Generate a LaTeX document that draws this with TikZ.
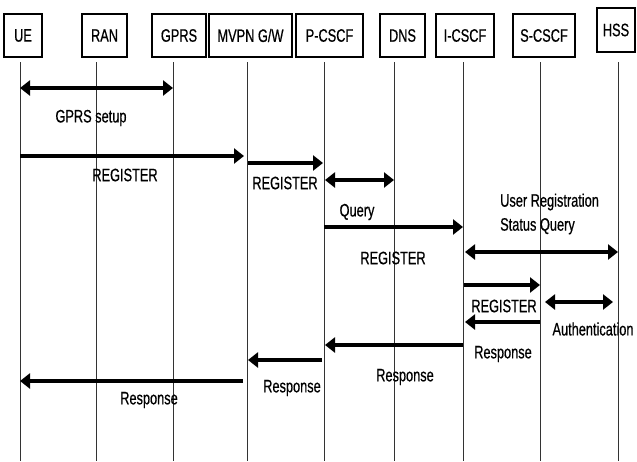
\documentclass[tikz,border=0pt]{standalone}
\usepackage{fontspec}
\setmainfont{Liberation Sans}[FakeStretch=0.71, FakeBold=0.6]
\usetikzlibrary{arrows.meta}
\begin{document}
\begin{tikzpicture}[x=1pt,y=-1pt,
  every node/.style={font=\fontsize{18}{19}\selectfont, inner sep=0pt},
  entity/.style={draw=black, line width=1.1pt, minimum height=43pt},
  lifeline/.style={draw=black!80, line width=0.8pt},
  msg/.style={line width=4.2pt, -{Triangle[length=10pt,width=15pt]}},
  bimsg/.style={line width=4.2pt, {Triangle[length=10pt,width=15pt]}-{Triangle[length=10pt,width=15pt]}}]
\useasboundingbox (0,0) rectangle (637,461);

% entity boxes
\node[entity, minimum width=38pt] (ue)    at (23,35.5)  {UE};
\node[entity, minimum width=45pt] (ran)   at (104.5,35.5) {RAN};
\node[entity, minimum width=54pt] (gprs)  at (179,35.5) {GPRS};
\node[entity, minimum width=83pt] (mvpn)  at (250.5,35.5) {MVPN G/W};
\node[entity, minimum width=67pt] (pcscf) at (329.5,35.5) {P-CSCF};
\node[entity, minimum width=45pt] (dns)   at (402.5,35.5) {DNS};
\node[entity, minimum width=58pt] (icscf) at (465,35.5) {I-CSCF};
\node[entity, minimum width=62pt] (scscf) at (544,35.5) {S-CSCF};
\node[entity, minimum width=38pt, minimum height=44pt] (hss) at (616,30) {HSS};

% lifelines
\foreach \n/\x in {lue/20, lran/96, lgprs/173, lmvpn/247, lpcscf/324, ldns/394, licscf/463, lscscf/540, lhss/618}{
  \coordinate (\n) at (\x,62);
  \draw[lifeline] (\n) -- (\x,461);
}

% registration messages
\draw[bimsg] (lue |- 0,88) -- (lgprs |- 0,88);
\node (t1) at (91,118) {GPRS setup};

\draw[msg] (lue |- 0,156) -- ([xshift=-3pt]lmvpn |- 0,156);
\node (t2) at (125,175) {REGISTER};

\draw[msg] ([xshift=1pt]lmvpn |- 0,163) -- ([xshift=-1pt]lpcscf |- 0,163);
\node (t3) at (285,183) {REGISTER};

\draw[bimsg] ([xshift=1pt]lpcscf |- 0,180) -- (ldns |- 0,180);

\node (t4) at (357,212) {Query};
\draw[msg] (lpcscf |- 0,227) -- (licscf |- 0,227);
\node (t5) at (393,258) {REGISTER};

\node[align=left, anchor=west] (t6) at (500,214) {User Registration\\[5pt]Status Query};
\draw[bimsg] ([xshift=2pt]licscf |- 0,252) -- (lhss |- 0,252);

\draw[msg] ([xshift=1pt]licscf |- 0,285) -- (lscscf |- 0,285);
\node (t7) at (504,306) {REGISTER};

\draw[bimsg] ([xshift=5pt]lscscf |- 0,302) -- ([xshift=-5pt]lhss |- 0,302);
\node (t8) at (593,329) {Authentication};

% responses
\draw[msg] (lscscf |- 0,322) -- ([xshift=2pt]licscf |- 0,322);
\node (t9) at (503,354) {Response};

\draw[msg] (licscf |- 0,345) -- ([xshift=1pt]lpcscf |- 0,345);
\node (t10) at (405,377) {Response};

\draw[msg] ([xshift=-2pt]lpcscf |- 0,360) -- ([xshift=1pt]lmvpn |- 0,360);
\node (t11) at (292,388) {Response};

\draw[msg] ([xshift=-4pt]lmvpn |- 0,381) -- (lue |- 0,381);
\node (t12) at (149,400) {Response};
\end{tikzpicture}
\end{document}
